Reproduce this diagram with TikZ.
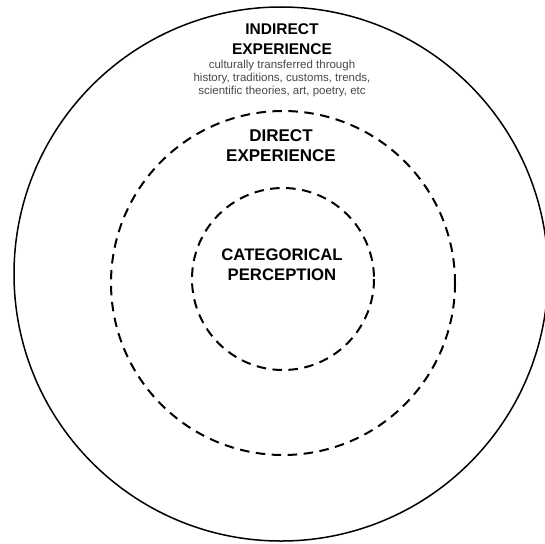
\documentclass[tikz,border=0pt]{standalone}
\usepackage{fontspec}
\setmainfont{Liberation Sans}
\usetikzlibrary{positioning}

\begin{document}
\begin{tikzpicture}[x=1pt, y=-1pt,
    ring/.style={line width=1.5pt},
    dashring/.style={line width=2pt, dash pattern=on 9.5pt off 6.5pt},
    title/.style={align=center, inner sep=0pt, anchor=base,
        font=\bfseries\fontsize{15.5}{20}\selectfont},
    note/.style={align=center, inner sep=0pt, text=black!72,
        font=\fontsize{11.5}{13.3}\selectfont}
  ]
  \clip (0,0) rectangle (545,543);
  \draw[ring]     (281,274) circle[radius=267];
  \draw[dashring] (283,283) circle[radius=172];
  \draw[dashring] (283,279) circle[radius=91];

  \node[title] (indirect) at (282,54.3) {INDIRECT\\EXPERIENCE};
  \node[note]  (culture)  [below=5pt of indirect]
    {culturally transferred through\\history, traditions, customs, trends,\\scientific theories, art, poetry, etc};
  \node[title, font=\bfseries\fontsize{17}{20}\selectfont] (direct) at (281,161.7) {DIRECT\\EXPERIENCE};
  \node[title, font=\bfseries\fontsize{16.7}{20.5}\selectfont] (categ) at (282,280.7) {CATEGORICAL\\PERCEPTION};
\end{tikzpicture}
\end{document}
